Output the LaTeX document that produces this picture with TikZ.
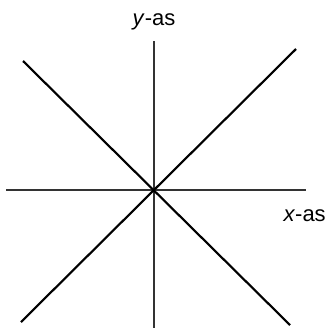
\documentclass[tikz,border=0pt]{standalone}
\usepackage{fontspec}
\setmainfont{Liberation Sans}
\begin{document}
\begin{tikzpicture}[x=0.75pt, y=-0.75pt, font=\fontsize{16.5}{20}\selectfont]
        \useasboundingbox (0,0) rectangle (331,329);
        \coordinate (O) at (154,190);
        \coordinate (L) at (6,190);
        \coordinate (R) at (306,190);
        \coordinate (T) at (154,41);
        \coordinate (B) at (154,328);
        \coordinate (NW) at (23,61);
        \coordinate (SE) at (290,325);
        \coordinate (NE) at (296,49);
        \coordinate (SW) at (21,322);
        
        \node [anchor=base] (Y) at (154,25) {\textit{y}-as};
        \node [anchor=base east, inner sep=0pt] (X) at (326,221) {\textit{x}-as};
        
        \draw[line width=0.8pt, black!80] (L) -- (R);
        \draw[line width=0.8pt, black!80] (T) -- (B);
        
        \draw[line width=1.6pt] (NW) -- (SE);
        \draw[line width=1.6pt] (SW) -- (NE);
    \end{tikzpicture}
\end{document}
